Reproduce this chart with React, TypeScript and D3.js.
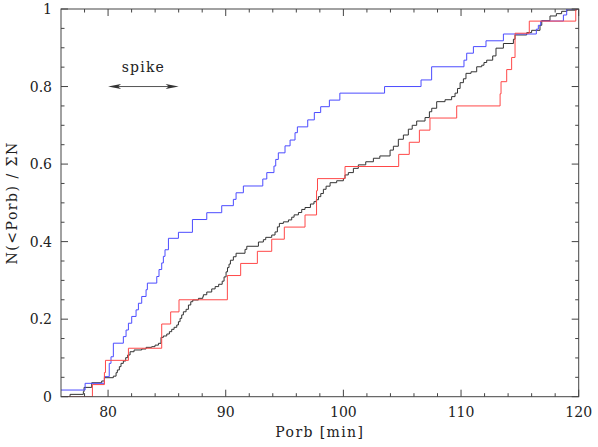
import React, { useEffect, useRef } from "react";
import * as d3 from "d3";

// axis ticks
const xMajor = [80, 90, 100, 110, 120];
const yMajor = [0, 0.2, 0.4, 0.6, 0.8, 1];
const yLabels = ["0", "0.2", "0.4", "0.6", "0.8", "1"];

// blue cumulative distribution (step positions in min, level after step)
const blueStart = 0.0172;
const blueP = [78.05, 79.69, 80.1, 80.25, 80.45, 81.3, 81.53, 81.73, 82.01, 82.38, 82.58, 82.86, 83.23, 83.34, 84.14, 84.33, 84.56, 84.7, 84.84, 85.13, 85.98, 87.17, 88.39, 89.66, 90.65, 90.88, 91.5, 93.15, 93.49, 94.1, 94.25, 94.47, 95.04, 95.47, 95.89, 96.09, 96.97, 97.53, 98.07, 98.81, 99.7, 103.5, 106.6, 107.5, 110.25, 110.48, 111.05, 112.12, 113.6, 116.4, 116.57, 116.77, 118.7, 118.98];
const blueF = [0.0345, 0.0517, 0.086, 0.103, 0.138, 0.155, 0.172, 0.1895, 0.207, 0.224, 0.241, 0.2585, 0.276, 0.293, 0.31, 0.328, 0.345, 0.362, 0.379, 0.4085, 0.424, 0.457, 0.4746, 0.4927, 0.509, 0.526, 0.5435, 0.5615, 0.578, 0.595, 0.612, 0.629, 0.647, 0.662, 0.681, 0.696, 0.714, 0.733, 0.748, 0.765, 0.783, 0.8, 0.817, 0.851, 0.868, 0.886, 0.903, 0.918, 0.9355, 0.948, 0.958, 0.969, 0.9845, 1];

// red cumulative distribution
const redStart = 0;
const redP = [78.67, 79.69, 79.78, 81.73, 84.56, 85.32, 86.03, 90.14, 91.27, 92.69, 93.91, 94.98, 96.74, 97.72, 97.8, 100.14, 104.7, 105.6, 106.46, 107.36, 109.63, 113.32, 113.4, 113.88, 114.3, 114.59, 115.8, 119.75];
const redF = [0.03125, 0.0625, 0.09375, 0.125, 0.1875, 0.21875, 0.25, 0.3125, 0.34375, 0.375, 0.40625, 0.4375, 0.46875, 0.53125, 0.5625, 0.59375, 0.625, 0.65625, 0.6875, 0.71875, 0.75, 0.78125, 0.8125, 0.84375, 0.875, 0.9375, 0.96875, 1];

// black cumulative distribution
const blackStart = 0;
const blackP = [76.77, 77.9, 77.96, 78.61, 79.46, 79.69, 80.45, 80.68, 80.79, 80.96, 81.1, 81.3, 81.5, 81.67, 81.87, 82.21, 82.86, 83.23, 83.71, 83.99, 84.28, 84.5, 84.7, 84.99, 85.21, 85.41, 85.61, 85.84, 85.98, 86.12, 86.26, 86.4, 86.63, 86.83, 87.03, 87.2, 87.68, 88.05, 88.1, 88.39, 88.81, 89.1, 89.4, 89.7, 89.86, 90.03, 90.15, 90.28, 90.4, 90.65, 90.88, 91.64, 91.79, 92.78, 93.2, 93.4, 93.91, 94.19, 94.39, 94.56, 94.9, 95.33, 95.61, 95.81, 96.18, 96.46, 96.74, 97.2, 97.5, 97.7, 97.88, 98.08, 98.3, 98.53, 98.87, 99.43, 100.0, 100.14, 100.42, 100.85, 101.27, 101.9, 102.55, 103.1, 103.97, 104.25, 104.67, 105.1, 105.52, 105.85, 106.23, 106.94, 107.31, 107.51, 107.93, 108.64, 109.2, 109.49, 109.7, 109.92, 110.2, 110.42, 110.85, 111.33, 111.76, 111.95, 112.18, 112.69, 112.97, 113.6, 114.45, 114.59, 115.58, 116.0, 116.71, 116.86, 117.56, 118.1, 118.55, 119.0, 119.8];
const blackF = [0.006, 0.013, 0.024, 0.036, 0.0405, 0.049, 0.053, 0.062, 0.069, 0.0775, 0.086, 0.092, 0.1007, 0.1076, 0.116, 0.1205, 0.123, 0.1273, 0.129, 0.133, 0.1377, 0.153, 0.1566, 0.1617, 0.1677, 0.1738, 0.179, 0.185, 0.1935, 0.202, 0.211, 0.219, 0.2254, 0.2365, 0.245, 0.2494, 0.2537, 0.258, 0.263, 0.27, 0.278, 0.284, 0.29, 0.298, 0.309, 0.322, 0.333, 0.342, 0.352, 0.361, 0.37, 0.38, 0.388, 0.399, 0.405, 0.411, 0.417, 0.425, 0.438, 0.447, 0.451, 0.456, 0.463, 0.469, 0.475, 0.483, 0.488, 0.497, 0.503, 0.508, 0.516, 0.524, 0.535, 0.543, 0.552, 0.557, 0.563, 0.572, 0.578, 0.589, 0.598, 0.606, 0.615, 0.621, 0.636, 0.646, 0.664, 0.675, 0.69, 0.7, 0.711, 0.72, 0.735, 0.744, 0.761, 0.766, 0.774, 0.783, 0.795, 0.81, 0.82, 0.834, 0.838, 0.851, 0.855, 0.862, 0.868, 0.879, 0.899, 0.911, 0.922, 0.933, 0.939, 0.945, 0.958, 0.97, 0.982, 0.988, 0.994, 0.997, 1];

// "spike" range marker
const spikeRange = [80, 86];
const spikeLevel = 0.8;

const W = 598;
const H = 447;
const margin = { left: 61, right: 19.3, top: 9, bottom: 50.3 };
const font = "DejaVu Serif, serif";

function App() {
  const ref = useRef<SVGSVGElement>(null);

  useEffect(() => {
    const svg = d3.select(ref.current);
    svg.selectAll("*").remove();

    const x = d3.scaleLinear().domain([76, 120]).range([margin.left, W - margin.right]);
    const y = d3.scaleLinear().domain([0, 1]).range([H - margin.bottom, margin.top]);
    const [x0, x1] = x.range();
    const [y0, y1] = y.range();

    svg.append("rect").attr("width", W).attr("height", H).attr("fill", "#fff");

    svg.append("defs").append("clipPath").attr("id", "plotClip")
      .append("rect").attr("x", x0).attr("y", y1).attr("width", x1 - x0).attr("height", y0 - y1);

    const line = d3.line<[number, number]>()
      .x((d) => x(d[0]))
      .y((d) => y(d[1]))
      .curve(d3.curveStepAfter);

    const series = [
      { p: blackP, f: blackF, start: blackStart, color: "#333333" },
      { p: blueP, f: blueF, start: blueStart, color: "#4c4cff" },
      { p: redP, f: redF, start: redStart, color: "#ff4848" },
    ];

    const g = svg.append("g").attr("clip-path", "url(#plotClip)");
    series.forEach((s) => {
      const pts: [number, number][] = [[76, s.start]];
      s.p.forEach((p, i) => pts.push([p, s.f[i]]));
      pts.push([120, s.f[s.f.length - 1]]);
      g.append("path")
        .attr("d", line(pts))
        .attr("fill", "none")
        .attr("stroke", s.color)
        .attr("stroke-width", 1);
    });

    // frame
    const axisColor = "#444";
    svg.append("rect")
      .attr("x", x0).attr("y", y1)
      .attr("width", x1 - x0).attr("height", y0 - y1)
      .attr("fill", "none").attr("stroke", axisColor).attr("stroke-width", 1);

    // x ticks (inward, top and bottom)
    const xMinor = d3.range(78, 120, 2).filter((v) => !xMajor.includes(v));
    const tk = svg.append("g").attr("stroke", axisColor).attr("stroke-width", 1);
    xMajor.concat(xMinor).forEach((v) => {
      const len = xMajor.includes(v) ? 7 : 3.5;
      tk.append("line").attr("x1", x(v)).attr("x2", x(v)).attr("y1", y0).attr("y2", y0 - len);
      tk.append("line").attr("x1", x(v)).attr("x2", x(v)).attr("y1", y1).attr("y2", y1 + len);
    });
    const yMinor = d3.range(0.05, 1, 0.05).filter((v) => !yMajor.some((m) => Math.abs(m - v) < 1e-6));
    yMajor.concat(yMinor).forEach((v) => {
      const len = yMajor.some((m) => Math.abs(m - v) < 1e-6) ? 7 : 3.5;
      tk.append("line").attr("x1", x0).attr("x2", x0 + len).attr("y1", y(v)).attr("y2", y(v));
      tk.append("line").attr("x1", x1).attr("x2", x1 - len).attr("y1", y(v)).attr("y2", y(v));
    });

    // tick labels
    svg.append("g").selectAll("text").data(xMajor).enter().append("text")
      .attr("x", (d) => x(d)).attr("y", y0 + 20)
      .attr("text-anchor", "middle")
      .attr("font-family", font).attr("font-size", 14).attr("fill", "#222")
      .text((d) => String(d));
    svg.append("g").selectAll("text").data(yMajor).enter().append("text")
      .attr("x", x0 - 9).attr("y", (d) => y(d) + 5)
      .attr("text-anchor", "end")
      .attr("font-family", font).attr("font-size", 14).attr("fill", "#222")
      .text((d, i) => yLabels[i]);

    // axis titles
    svg.append("text")
      .attr("x", (x0 + x1) / 2).attr("y", 437)
      .attr("text-anchor", "middle")
      .attr("font-family", font).attr("font-size", 14).attr("fill", "#222")
      .attr("letter-spacing", 1.4)
      .text("Porb [min]");
    svg.append("text")
      .attr("transform", `translate(17,${(y0 + y1) / 2}) rotate(-90)`)
      .attr("text-anchor", "middle")
      .attr("font-family", font).attr("font-size", 14).attr("fill", "#222")
      .attr("letter-spacing", 1.5)
      .text("N(<Porb) / ΣN");

    // spike annotation
    const ax0 = x(spikeRange[0]);
    const ax1 = x(spikeRange[1]);
    const ay = y(spikeLevel);
    const ann = svg.append("g");
    ann.append("line").attr("x1", ax0 + 4).attr("x2", ax1 - 4).attr("y1", ay).attr("y2", ay)
      .attr("stroke", "#555").attr("stroke-width", 1);
    ann.append("path")
      .attr("d", `M${ax0},${ay} L${ax0 + 13},${ay - 2.5} L${ax0 + 10},${ay} L${ax0 + 13},${ay + 2.5} Z`)
      .attr("fill", "#333");
    ann.append("path")
      .attr("d", `M${ax1},${ay} L${ax1 - 13},${ay - 2.5} L${ax1 - 10},${ay} L${ax1 - 13},${ay + 2.5} Z`)
      .attr("fill", "#333");
    ann.append("text")
      .attr("x", (ax0 + ax1) / 2).attr("y", ay - 15)
      .attr("text-anchor", "middle")
      .attr("font-family", font).attr("font-size", 14).attr("fill", "#222")
      .attr("letter-spacing", 1.2)
      .text("spike");
  }, []);

  return (
    <svg ref={ref} width={W} height={H} style={{ position: "absolute", left: 0, top: 0 }} />
  );
}

export default App;
